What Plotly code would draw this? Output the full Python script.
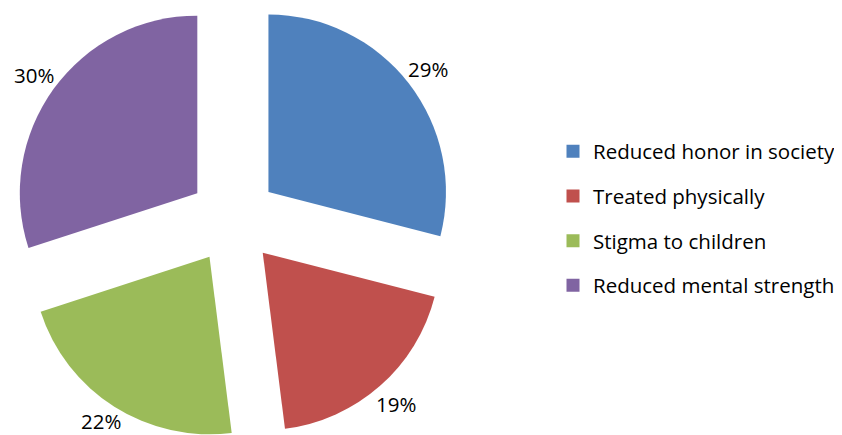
import math
import plotly.graph_objects as go

labels = ["Reduced honor in society", "Treated physically", "Stigma to children", "Reduced mental strength"]
values = [29, 19, 22, 30]
colors = ["#4F81BD", "#C0504D", "#9BBB59", "#8064A2"]

FONT = "Open Sans"
# the page body adds an 8px margin, so the figure is sized to the visible area
W, H = 834, 427

# exploded-pie layout (pixels inside the figure)
PIE_CX, PIE_CY = 225.3, 211.3   # pie centre
PIE_R = 177.5                   # slice radius
PULL = 44.5                     # explosion distance
LABEL_GAP = 24                  # distance of the percent labels beyond the slice edge
LABEL_HALF_H = 14.5             # half height of a label box (keeps labels inside the figure)

total = float(sum(values))
fig = go.Figure()
annotations = []
cum = 0.0
for i, (lab, val, col) in enumerate(zip(labels, values, colors)):
    mid = (cum + val / 2.0) / total * 2 * math.pi   # clockwise from 12 o'clock
    cum += val
    cx = PIE_CX + PULL * math.sin(mid)
    cy = PIE_CY - PULL * math.cos(mid)
    dom_x = [max(0.0, (cx - PIE_R) / W), min(1.0, (cx + PIE_R) / W)]
    dom_y = [max(0.0, 1 - (cy + PIE_R) / H), min(1.0, 1 - (cy - PIE_R) / H)]
    slice_colors = [c if j == i else "rgba(0,0,0,0)" for j, c in enumerate(colors)]
    fig.add_trace(go.Pie(
        labels=labels, values=values, sort=False, direction="clockwise", rotation=0,
        marker=dict(colors=slice_colors, line=dict(width=0)),
        textinfo="none",
        domain=dict(x=dom_x, y=dom_y),
        showlegend=False, hoverinfo="skip",
    ))
    # percent label outside the exploded slice
    rl = PIE_R + PULL + LABEL_GAP
    lx = PIE_CX + rl * math.sin(mid)
    ly = PIE_CY - rl * math.cos(mid)
    ly = min(max(ly, LABEL_HALF_H), H - LABEL_HALF_H)
    annotations.append(dict(
        x=lx / W, y=1 - ly / H, xref="paper", yref="paper",
        xanchor="center", yanchor="middle", showarrow=False,
        text=f"{round(val / total * 100)}%",
        font=dict(family=FONT, size=20.5, color="#000000"),
    ))

for lab, col in zip(labels, colors):
    fig.add_trace(go.Scatter(
        x=[None], y=[None], mode="markers", name=lab, legendgroup=lab,
        marker=dict(symbol="square", size=13, color=col, line=dict(width=0)),
        showlegend=True,
    ))

fig.update_layout(
    width=W, height=H,
    margin=dict(l=0, r=0, t=0, b=0, autoexpand=False),
    paper_bgcolor="white", plot_bgcolor="white",
    xaxis=dict(visible=False), yaxis=dict(visible=False),
    annotations=annotations,
    legend=dict(
        x=545 / W, xanchor="left", y=1 - 210.5 / H, yanchor="middle",
        font=dict(family=FONT, size=20.5, color="#000000"),
        tracegroupgap=15, traceorder="grouped", itemsizing="trace",
        bgcolor="rgba(0,0,0,0)",
    ),
)
fig.write_html("out.html")
